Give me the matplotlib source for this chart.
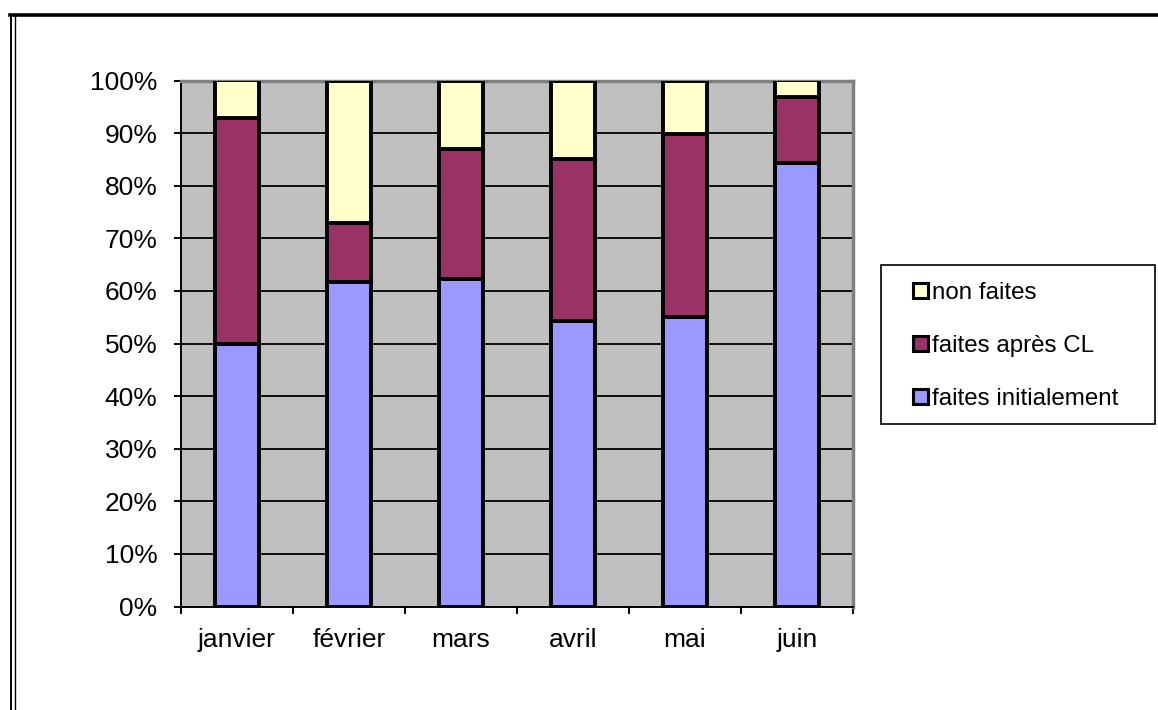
import matplotlib
matplotlib.use("Agg")
import matplotlib.pyplot as plt
from matplotlib.patches import Patch, Rectangle
from matplotlib.lines import Line2D
from matplotlib.ticker import FuncFormatter, MultipleLocator
import numpy as np

plt.rcParams['font.family'] = ['Liberation Sans', 'DejaVu Sans']

months = ["janvier", "février", "mars", "avril", "mai", "juin"]
faites_initialement = [50.0, 61.6, 62.2, 54.3, 55.0, 84.4]
faites_apres_cl = [42.8, 11.4, 24.8, 30.8, 34.9, 12.4]
non_faites = [7.2, 27.0, 13.0, 14.9, 10.1, 3.2]

series_labels = ["faites initialement", "faites après CL", "non faites"]
series_colors = ["#9999FF", "#993366", "#FFFFCC"]

W, H = 1158, 710
fig = plt.figure(figsize=(W / 100, H / 100), dpi=100)
fig.patch.set_facecolor("white")

ax = fig.add_axes([181 / W, 1 - 606.5 / H, 672 / W, 526 / H])
ax.set_facecolor("#C0C0C0")

x = np.arange(len(months))
bottom = np.zeros(len(months))
handles = []
for vals, lab, col in zip([faites_initialement, faites_apres_cl, non_faites], series_labels, series_colors):
    v = np.array(vals)
    ax.bar(x, v, bottom=bottom, width=0.4, color=col, edgecolor="black", linewidth=2.8, zorder=3, label=lab)
    bottom += v
    handles.append(Patch(facecolor=col, edgecolor="black", linewidth=2.2, label=lab))

ax.set_xlim(-0.5, len(months) - 0.5)
ax.set_ylim(0, 100)
ax.yaxis.set_major_locator(MultipleLocator(10))
ax.yaxis.set_major_formatter(FuncFormatter(lambda v, p: f"{int(round(v))}%"))
ax.grid(axis="y", color="black", linewidth=1.3, zorder=1)
ax.set_axisbelow(True)

ax.set_xticks(np.arange(-0.5, len(months), 1.0))
ax.set_xticklabels([])
ax.set_xticks(x, minor=True)
ax.set_xticklabels(months, minor=True)
ax.tick_params(axis="x", which="major", direction="out", length=5, width=1.4, color="black")
ax.tick_params(axis="x", which="minor", length=0, pad=15.5, labelsize=19)
ax.tick_params(axis="y", direction="out", length=5, width=1.4, pad=12, labelsize=19)

for side in ["top", "right"]:
    ax.spines[side].set_color("#808080")
    ax.spines[side].set_linewidth(2.5)
for side in ["left", "bottom"]:
    ax.spines[side].set_color("black")
    ax.spines[side].set_linewidth(1.4)

# legend frame
fig.patches.append(Rectangle((881 / W, 1 - 424 / H), 274 / W, 159 / H, transform=fig.transFigure,
                             facecolor="white", edgecolor="black", linewidth=1.2))
leg = fig.legend(handles=handles[::-1], loc="center left", bbox_to_anchor=(913 / W, 1 - 346 / H),
                 frameon=False, fontsize=17.4, handlelength=0.6, handleheight=0.6, handletextpad=0.2,
                 labelspacing=1.27, borderaxespad=0, borderpad=0)

# outer chart frame
fig.add_artist(Line2D([10 / W, 1.0], [1 - 14.5 / H, 1 - 14.5 / H], transform=fig.transFigure, color="black", linewidth=2.6))
fig.add_artist(Line2D([11 / W, 11 / W], [0, 1 - 14.5 / H], transform=fig.transFigure, color="black", linewidth=1.4))
fig.add_artist(Line2D([14.5 / W, 14.5 / W], [0, 1 - 16 / H], transform=fig.transFigure, color="black", linewidth=1.0))

fig.savefig("out.png", dpi=100)
